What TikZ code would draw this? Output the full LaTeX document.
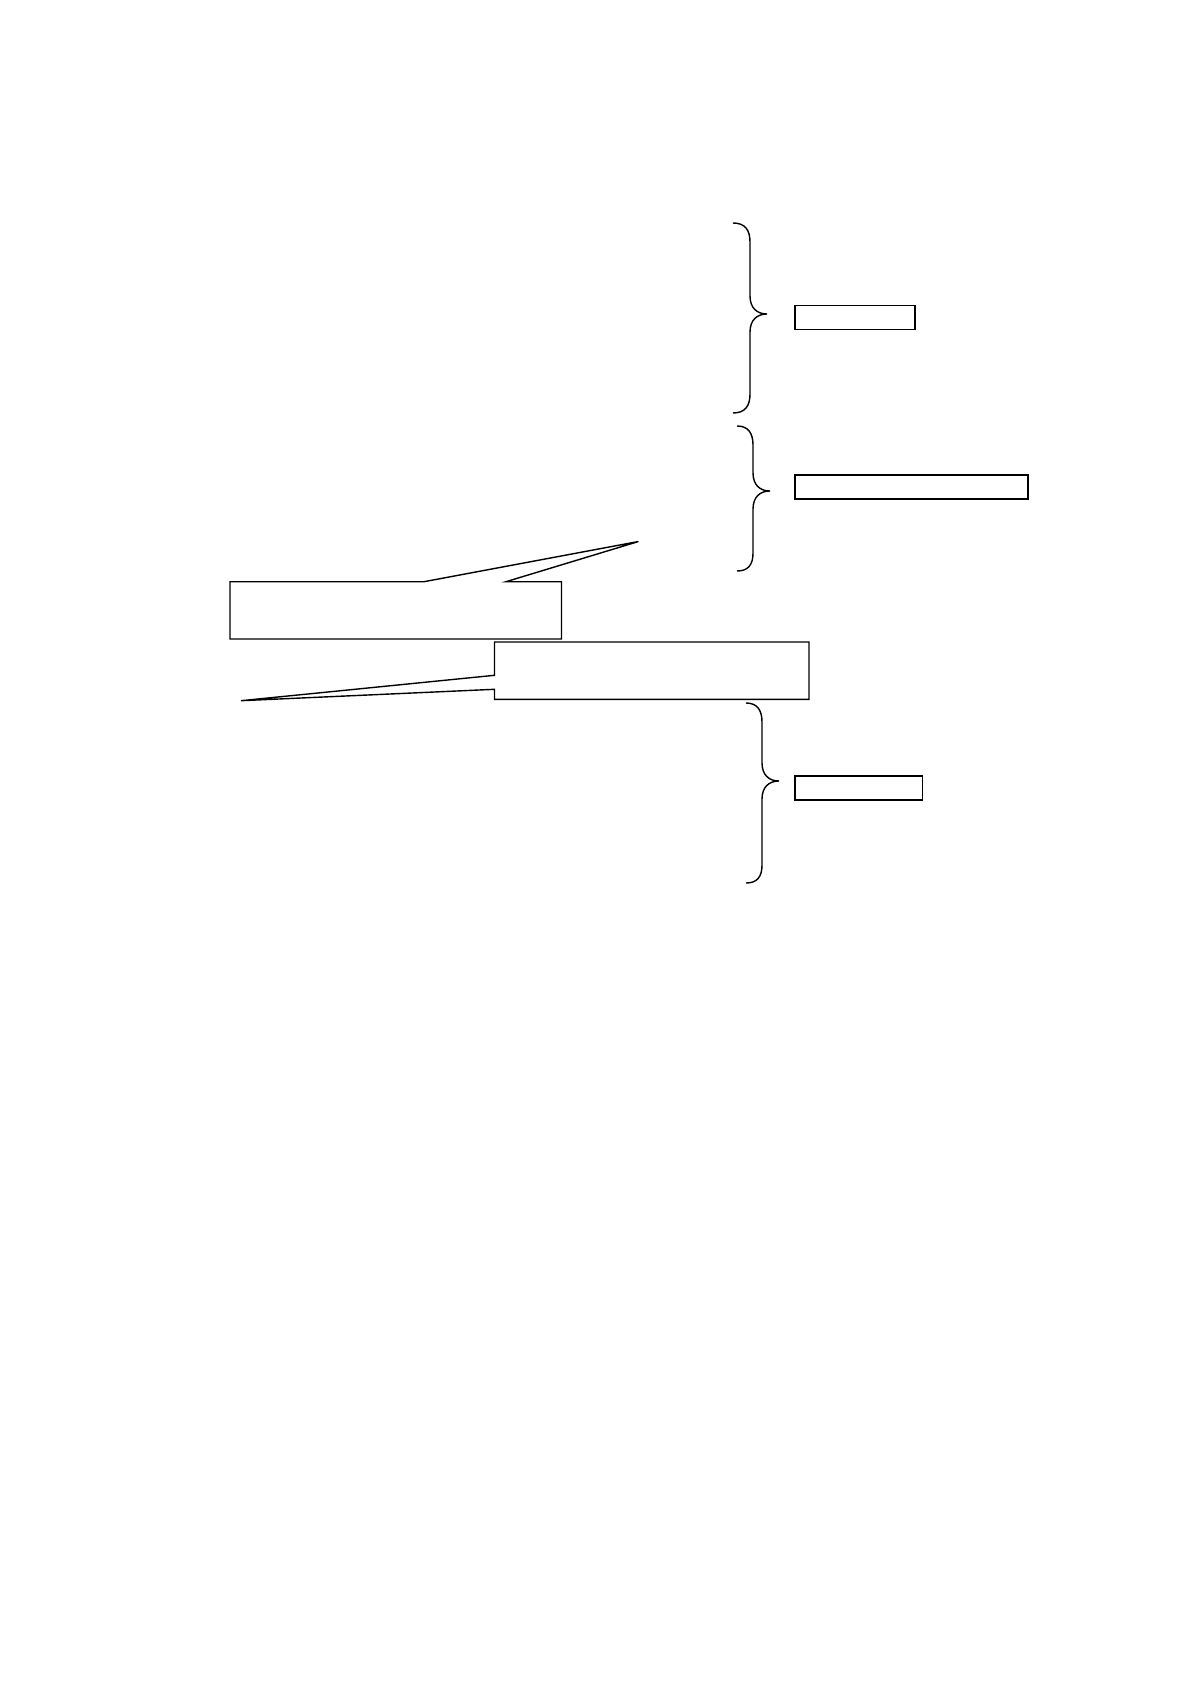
\documentclass[tikz,border=0pt]{standalone}
\begin{document}
\begin{tikzpicture}[x=0.5pt,y=-0.5pt,
  line join=miter,
  labelbox/.style={draw,line width=0.6pt,inner sep=0pt,anchor=north west},
  bracepath/.style={draw,line width=0.7pt},
  calloutpath/.style={draw,line width=0.7pt}]
\useasboundingbox (0,0) rectangle (1190,1684);
% boxes beside the braces
\node[labelbox,minimum width=60pt,minimum height=12pt] (b1) at (794.3,305.3) {};
\node[labelbox,minimum width=116.5pt,minimum height=12pt] (b2) at (794.3,474.3) {};
\node[labelbox,minimum width=63.7pt,minimum height=12pt] (b3) at (794.3,775.3) {};
% brace 1
\draw[bracepath] (733,223) .. controls (745,223) and (750,230) .. (750,242)
  -- (750,296) .. controls (750,308) and (757,314) .. (767,314)
  .. controls (757,314) and (750,320) .. (750,332)
  -- (750,394) .. controls (750,406) and (745,413) .. (733,413);
% brace 2
\draw[bracepath] (737,426) .. controls (748,426) and (753,433) .. (753,445)
  -- (753,473) .. controls (753,485) and (760,491) .. (770,491)
  .. controls (760,491) and (753,497) .. (753,509)
  -- (753,553) .. controls (753,565) and (748,571) .. (737,571);
% brace 3
\draw[bracepath] (746,703) .. controls (757,703) and (762,710) .. (762,722)
  -- (762,763) .. controls (762,775) and (769,781) .. (779,781)
  .. controls (769,781) and (762,787) .. (762,799)
  -- (762,865) .. controls (762,877) and (757,883) .. (746,883);
% callout 1
\coordinate (t1) at (638.5,541.5);
\draw[calloutpath] (424,581.7) -- (t1) -- (506,581.7) -- (561.5,581.7)
  -- (561.5,639) -- (230,639) -- (230,581.7) -- cycle;
% callout 2
\coordinate (t2) at (241,700.7);
\draw[calloutpath] (494.5,675.3) -- (t2) -- (494.5,689.3) -- (494.5,699.3)
  -- (809,699.3) -- (809,642) -- (494.5,642) -- cycle;
\end{tikzpicture}
\end{document}
